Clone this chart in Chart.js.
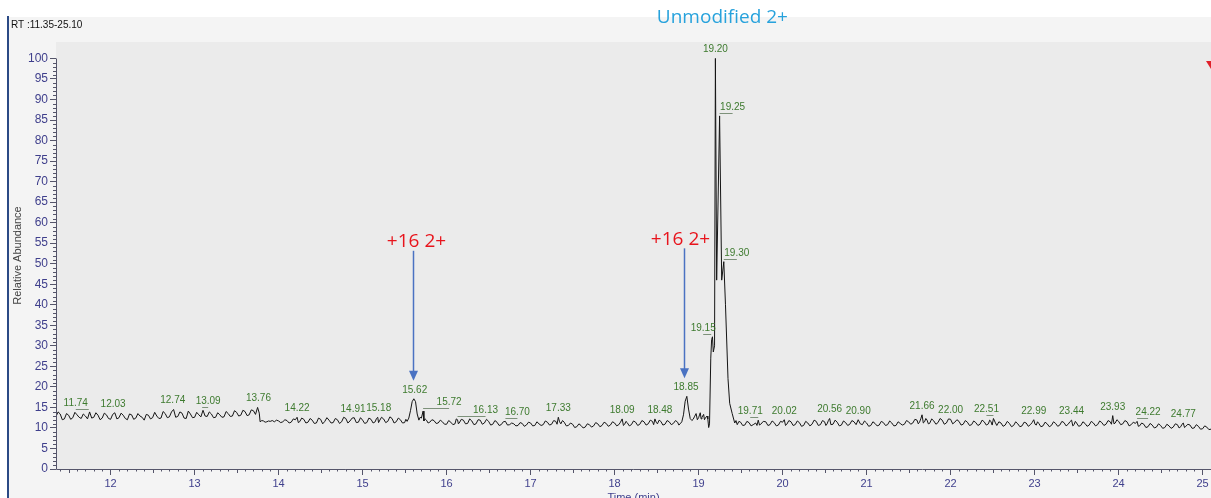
<!DOCTYPE html>
<html>
<head>
<meta charset="utf-8">
<title>RT 11.35-25.10</title>
<script src="https://cdn.jsdelivr.net/npm/chart.js@4/dist/chart.umd.min.js"></script>
<style>
  html, body { margin: 0; padding: 0; background: #fff; }
</style>
</head>
<body>
<canvas id="chromatogram" width="1211" height="498"></canvas>
<script>
// retention time (min) and relative abundance (%)
const times = [
  11.35, 11.375, 11.40, 11.425, 11.45, 11.475, 11.50, 11.525, 11.55, 11.575,
  11.60, 11.625, 11.65, 11.675, 11.70, 11.725, 11.75, 11.775, 11.80, 11.825,
  11.85, 11.875, 11.90, 11.925, 11.95, 11.975, 12.00, 12.025, 12.05, 12.075,
  12.10, 12.125, 12.15, 12.175, 12.20, 12.225, 12.25, 12.275, 12.30, 12.325,
  12.35, 12.375, 12.40, 12.425, 12.45, 12.475, 12.50, 12.525, 12.55, 12.575,
  12.60, 12.625, 12.65, 12.675, 12.70, 12.725, 12.75, 12.775, 12.80, 12.825,
  12.85, 12.875, 12.90, 12.925, 12.95, 12.975, 13.00, 13.025, 13.05, 13.075,
  13.10, 13.125, 13.15, 13.175, 13.20, 13.225, 13.25, 13.275, 13.30, 13.325,
  13.35, 13.375, 13.40, 13.425, 13.45, 13.475, 13.50, 13.525, 13.55, 13.575,
  13.60, 13.625, 13.65, 13.675, 13.70, 13.725, 13.75, 13.77, 13.78, 13.80,
  13.82, 13.84, 13.86, 13.88, 13.90, 13.925, 13.95, 13.975, 14.00, 14.025,
  14.05, 14.075, 14.10, 14.125, 14.15, 14.175, 14.20, 14.22, 14.235, 14.25,
  14.275, 14.30, 14.325, 14.35, 14.375, 14.40, 14.425, 14.45, 14.475, 14.50,
  14.525, 14.55, 14.575, 14.60, 14.625, 14.65, 14.675, 14.70, 14.725, 14.75,
  14.775, 14.80, 14.825, 14.85, 14.875, 14.90, 14.925, 14.95, 14.975, 15.00,
  15.025, 15.05, 15.075, 15.10, 15.125, 15.15, 15.165, 15.18, 15.19, 15.20,
  15.225, 15.25, 15.275, 15.30, 15.325, 15.35, 15.375, 15.40, 15.425, 15.45,
  15.475, 15.50, 15.515, 15.53, 15.55, 15.57, 15.59, 15.61, 15.63, 15.65,
  15.67, 15.685, 15.70, 15.72, 15.73, 15.745, 15.76, 15.78, 15.80, 15.825,
  15.85, 15.875, 15.90, 15.925, 15.95, 15.975, 16.00, 16.025, 16.05, 16.075,
  16.10, 16.115, 16.13, 16.14, 16.15, 16.175, 16.20, 16.225, 16.25, 16.275,
  16.30, 16.325, 16.35, 16.375, 16.40, 16.425, 16.45, 16.475, 16.50, 16.525,
  16.55, 16.575, 16.60, 16.625, 16.65, 16.675, 16.70, 16.725, 16.75, 16.775,
  16.80, 16.825, 16.85, 16.875, 16.90, 16.925, 16.95, 16.975, 17.00, 17.025,
  17.05, 17.075, 17.10, 17.125, 17.15, 17.175, 17.20, 17.225, 17.25, 17.275,
  17.30, 17.315, 17.33, 17.345, 17.36, 17.38, 17.40, 17.425, 17.45, 17.475,
  17.50, 17.525, 17.55, 17.575, 17.60, 17.625, 17.65, 17.675, 17.70, 17.725,
  17.75, 17.775, 17.80, 17.825, 17.85, 17.875, 17.90, 17.925, 17.95, 17.975,
  18.00, 18.025, 18.05, 18.07, 18.09, 18.105, 18.12, 18.135, 18.15, 18.175,
  18.20, 18.225, 18.25, 18.275, 18.30, 18.325, 18.35, 18.375, 18.40, 18.425,
  18.45, 18.465, 18.48, 18.495, 18.51, 18.53, 18.55, 18.575, 18.60, 18.625,
  18.65, 18.675, 18.70, 18.725, 18.75, 18.765, 18.78, 18.80, 18.82, 18.84,
  18.86, 18.88, 18.90, 18.92, 18.935, 18.95, 18.97, 18.985, 19.00, 19.02,
  19.03, 19.04, 19.06, 19.07, 19.08, 19.10, 19.11, 19.12, 19.13, 19.145,
  19.155, 19.165, 19.175, 19.19, 19.20, 19.215, 19.25, 19.275, 19.30, 19.32,
  19.35, 19.37, 19.40, 19.43, 19.445, 19.46, 19.48, 19.50, 19.525, 19.55,
  19.575, 19.60, 19.625, 19.65, 19.68, 19.695, 19.71, 19.725, 19.74, 19.77,
  19.80, 19.825, 19.85, 19.875, 19.90, 19.925, 19.95, 19.975, 20.00, 20.02,
  20.035, 20.05, 20.075, 20.10, 20.125, 20.15, 20.175, 20.20, 20.225, 20.25,
  20.275, 20.30, 20.325, 20.35, 20.375, 20.40, 20.425, 20.45, 20.475, 20.50,
  20.515, 20.53, 20.545, 20.56, 20.575, 20.60, 20.625, 20.65, 20.675, 20.70,
  20.725, 20.75, 20.775, 20.80, 20.825, 20.85, 20.875, 20.90, 20.925, 20.95,
  20.975, 21.00, 21.025, 21.05, 21.075, 21.10, 21.125, 21.15, 21.175, 21.20,
  21.225, 21.25, 21.275, 21.30, 21.325, 21.35, 21.375, 21.40, 21.425, 21.45,
  21.475, 21.50, 21.525, 21.55, 21.575, 21.60, 21.615, 21.63, 21.645, 21.66,
  21.675, 21.69, 21.705, 21.72, 21.735, 21.75, 21.775, 21.80, 21.825, 21.85,
  21.875, 21.90, 21.925, 21.95, 21.975, 22.00, 22.025, 22.05, 22.075, 22.10,
  22.125, 22.15, 22.175, 22.20, 22.225, 22.25, 22.275, 22.30, 22.325, 22.35,
  22.375, 22.40, 22.425, 22.45, 22.465, 22.48, 22.495, 22.51, 22.53, 22.55,
  22.575, 22.60, 22.625, 22.65, 22.675, 22.70, 22.725, 22.75, 22.775, 22.80,
  22.825, 22.85, 22.875, 22.90, 22.925, 22.95, 22.97, 22.99, 23.005, 23.02,
  23.035, 23.05, 23.075, 23.10, 23.125, 23.15, 23.175, 23.20, 23.225, 23.25,
  23.275, 23.30, 23.325, 23.35, 23.375, 23.40, 23.42, 23.44, 23.455, 23.47,
  23.485, 23.50, 23.525, 23.55, 23.575, 23.60, 23.625, 23.65, 23.675, 23.70,
  23.725, 23.75, 23.775, 23.80, 23.825, 23.85, 23.875, 23.90, 23.915, 23.93,
  23.945, 23.96, 23.98, 24.00, 24.025, 24.05, 24.075, 24.10, 24.125, 24.15,
  24.175, 24.20, 24.22, 24.235, 24.25, 24.275, 24.30, 24.325, 24.35, 24.375,
  24.40, 24.425, 24.45, 24.475, 24.50, 24.525, 24.55, 24.575, 24.60, 24.625,
  24.65, 24.675, 24.70, 24.72, 24.74, 24.755, 24.77, 24.785, 24.80, 24.825,
  24.85, 24.875, 24.90, 24.925, 24.95, 24.975, 25.00, 25.025, 25.05, 25.075,
  25.10
];
const abundance = [
  12.8, 13.9, 13.4, 12.0, 12.2, 13.5, 13.1, 12.1, 12.5, 13.8,
  13.2, 12.6, 12.3, 13.4, 12.9, 12.2, 13.9, 12.4, 12.6, 13.7,
  13.1, 12.0, 12.4, 13.6, 13.2, 12.3, 12.1, 13.3, 13.7, 12.2,
  12.5, 13.6, 13.1, 12.3, 12.0, 13.4, 13.2, 12.1, 12.4, 13.5,
  12.9, 12.6, 11.9, 13.3, 13.1, 12.2, 12.5, 13.8, 12.9, 12.3,
  12.4, 14.0, 13.5, 12.5, 12.7, 13.9, 14.5, 12.6, 12.8, 13.9,
  13.6, 12.4, 12.3, 14.1, 13.4, 12.5, 12.6, 13.8, 13.2, 12.7,
  14.3, 12.9, 12.8, 13.9, 13.4, 12.5, 12.6, 13.7, 13.2, 12.6,
  12.7, 14.0, 13.5, 12.8, 12.9, 14.2, 13.8, 12.9, 13.1, 14.3,
  14.0, 13.0, 13.2, 14.4, 14.2, 13.3, 15.0, 13.6, 11.5, 11.8,
  11.7, 11.4, 11.5, 11.7, 11.6, 11.8, 11.5, 11.9, 11.7, 11.3,
  11.5, 12.0, 11.8, 11.2, 11.4, 12.2, 12.0, 12.6, 11.3, 11.5,
  12.4, 12.1, 11.2, 11.4, 12.3, 11.9, 11.1, 11.2, 12.4, 12.1,
  11.0, 11.6, 12.5, 11.9, 11.2, 11.3, 12.3, 12.0, 11.1, 11.5,
  12.6, 12.3, 11.2, 11.7, 12.4, 12.5, 11.3, 11.4, 12.5, 11.9,
  11.1, 11.3, 12.4, 12.1, 11.2, 11.5, 12.3, 12.6, 11.3, 11.7,
  12.6, 12.2, 11.3, 11.6, 12.7, 12.3, 11.2, 11.5, 12.4, 12.0,
  11.2, 11.3, 12.1, 11.6, 12.4, 14.2, 16.4, 17.1, 16.4, 13.4,
  11.9, 12.6, 12.4, 14.1, 11.7, 12.2, 11.9, 11.2, 11.4, 12.0,
  11.8, 11.1, 11.2, 11.9, 11.5, 10.9, 10.9, 11.8, 11.4, 10.8,
  11.0, 12.2, 12.0, 11.0, 11.2, 12.1, 11.9, 11.0, 11.1, 12.2,
  11.7, 10.8, 11.0, 12.0, 11.9, 10.9, 11.2, 12.1, 11.6, 10.7,
  10.9, 11.8, 11.4, 10.6, 10.8, 11.5, 11.6, 10.7, 10.8, 11.2,
  11.0, 10.5, 10.6, 11.3, 11.1, 10.4, 10.7, 11.4, 11.2, 10.5,
  10.6, 11.5, 11.0, 10.6, 10.8, 11.7, 11.4, 10.7, 10.9, 11.8,
  11.6, 10.9, 12.6, 11.5, 11.0, 11.8, 11.4, 10.5, 10.6, 11.2,
  10.9, 10.1, 10.3, 11.0, 10.6, 10.0, 10.2, 11.0, 10.8, 10.2,
  10.5, 11.3, 11.0, 10.3, 10.6, 11.4, 11.1, 10.4, 10.7, 11.5,
  11.2, 10.5, 10.8, 11.4, 12.2, 10.6, 10.9, 11.6, 11.3, 10.5,
  10.8, 11.7, 11.4, 10.6, 10.9, 11.8, 11.5, 10.7, 11.0, 11.9,
  11.6, 10.8, 12.2, 11.4, 11.0, 11.9, 11.6, 10.7, 10.9, 11.8,
  11.5, 10.8, 11.1, 11.8, 11.4, 10.7, 11.0, 11.5, 13.2, 16.5,
  17.7, 14.6, 12.3, 11.8, 12.1, 12.7, 13.5, 12.0, 12.5, 13.7,
  12.2, 12.6, 13.3, 12.0, 12.4, 12.9, 12.2, 10.1, 11.0, 27.0,
  31.5, 32.2, 28.5, 30.0, 100.0, 46.0, 86.0, 46.0, 50.5, 40.0,
  22.0, 16.0, 13.5, 11.2, 11.8, 10.8, 11.6, 11.4, 10.6, 10.7,
  11.6, 11.3, 10.5, 10.8, 11.2, 10.6, 11.9, 10.7, 10.9, 11.6,
  11.5, 10.6, 10.8, 11.7, 11.3, 10.5, 10.7, 11.6, 11.4, 12.0,
  10.6, 10.9, 11.8, 11.5, 10.6, 10.8, 11.7, 11.3, 10.4, 10.6,
  11.6, 11.2, 10.5, 10.9, 11.9, 11.6, 10.6, 10.8, 11.8, 11.5,
  10.6, 11.0, 11.8, 12.3, 10.8, 10.9, 11.9, 11.4, 10.5, 10.7,
  11.7, 11.3, 10.6, 10.9, 11.8, 11.5, 10.8, 12.0, 11.0, 10.8,
  11.7, 11.2, 10.4, 10.6, 11.5, 11.1, 10.5, 10.7, 11.6, 11.3,
  10.6, 10.8, 11.7, 11.2, 10.5, 10.6, 11.5, 11.1, 10.7, 10.9,
  11.8, 11.5, 10.9, 11.2, 12.1, 11.9, 11.0, 11.4, 12.2, 13.2,
  11.2, 11.5, 12.3, 11.9, 11.0, 11.1, 12.2, 11.7, 10.9, 11.3,
  12.3, 11.9, 10.9, 11.2, 12.2, 12.1, 11.0, 11.4, 12.0, 11.6,
  10.7, 10.9, 11.8, 11.4, 10.6, 10.8, 11.7, 11.3, 10.6, 10.9,
  11.9, 11.5, 10.7, 11.0, 11.9, 11.6, 10.7, 12.3, 11.4, 10.6,
  11.5, 11.2, 10.4, 10.7, 11.6, 11.1, 10.3, 10.6, 11.5, 11.0,
  10.3, 10.5, 11.4, 11.2, 10.4, 10.8, 11.3, 12.0, 10.9, 10.7,
  11.5, 11.1, 10.3, 10.5, 11.4, 11.0, 10.3, 10.6, 11.5, 11.1,
  10.4, 10.7, 11.6, 11.3, 10.5, 10.9, 11.5, 11.9, 10.5, 10.8,
  11.6, 11.2, 10.4, 10.6, 11.5, 11.1, 10.4, 10.7, 11.6, 11.2,
  10.5, 10.8, 11.7, 11.3, 10.6, 10.9, 11.8, 11.5, 10.9, 13.0,
  11.0, 11.2, 12.0, 11.6, 10.8, 11.0, 11.8, 11.5, 10.5, 10.8,
  11.4, 11.1, 11.6, 10.4, 10.5, 11.2, 10.9, 10.1, 10.3, 11.1,
  10.7, 10.0, 10.2, 11.0, 10.6, 9.9, 10.1, 10.9, 10.5, 9.9,
  10.2, 11.0, 10.8, 10.0, 10.3, 10.9, 11.2, 10.1, 10.4, 10.9,
  10.7, 9.9, 10.0, 10.8, 10.4, 9.7, 9.8, 10.5, 10.2, 9.6,
  9.7
];

const timeTicks = [12, 13, 14, 15, 16, 17, 18, 19, 20, 21, 22, 23, 24, 25];
const abundanceTicks = [0, 5, 10, 15, 20, 25, 30, 35, 40, 45, 50, 55, 60, 65, 70, 75, 80, 85, 90, 95, 100];

const peakLabels = ['11.74', '12.03', '12.74', '13.09', '13.76', '14.22', '14.91', '15.18', '15.62', '15.72',
  '16.13', '16.70', '17.33', '18.09', '18.48', '18.85', '19.15', '19.20', '19.25', '19.30',
  '19.71', '20.02', '20.56', '20.90', '21.66', '22.00', '22.51', '22.99', '23.44', '23.93',
  '24.22', '24.77'];

const modText = '+16 2+';
const modPeaks = [15.62, 18.85];
const mainText = 'Unmodified 2+';
const mainPeak = 19.20;
const rangeText = 'RT :11.35-25.10';

// label nudges in pixels (the instrument software moves labels apart)
const labelShift = { '11.74': -13, '13.09': 6, '14.91': -2, '15.18': 1, '15.72': 26, '16.13': 28, '16.70': 12,
  '18.48': 5, '19.15': -8, '19.25': 13, '19.30': 13, '19.71': -8, '22.51': -7, '24.22': 11 };
const modShift = [3, -4];

const sans = '"Liberation Sans", Arial, sans-serif';
const axisBlue = '#3f3f8c';

function peakTop(rt) {
  let best = -Infinity;
  for (let i = 0; i < times.length; i++) {
    if (Math.abs(times[i] - rt) <= 0.0251 && abundance[i] > best) best = abundance[i];
  }
  return best;
}

const decor = {
  id: 'decor',
  beforeDraw(chart) {
    const { ctx, chartArea: a, width, height } = chart;
    ctx.save();
    ctx.fillStyle = '#ffffff';
    ctx.fillRect(0, 0, width, height);
    ctx.fillStyle = '#f4f4f4';
    ctx.fillRect(9, 17, width - 9, height - 17);
    ctx.fillStyle = '#ebebeb';
    ctx.fillRect(a.left, a.top, a.right - a.left, a.bottom - a.top);
    ctx.strokeStyle = '#2b4a85';
    ctx.lineWidth = 2;
    ctx.beginPath();
    ctx.moveTo(8, 16);
    ctx.lineTo(8, height);
    ctx.stroke();
    ctx.restore();
  },
  afterDraw(chart) {
    const { ctx, chartArea: a } = chart;
    const xs = chart.scales.x, ys = chart.scales.y;
    ctx.save();

    // axis lines
    ctx.strokeStyle = '#55556a';
    ctx.lineWidth = 1;
    ctx.beginPath();
    ctx.moveTo(a.left + 0.5, Math.round(ys.getPixelForValue(100)) + 0.5);
    ctx.lineTo(a.left + 0.5, a.bottom + 0.5);
    ctx.lineTo(a.right, a.bottom + 0.5);
    ctx.stroke();

    // minor ticks
    ctx.beginPath();
    for (let k = 114; k <= 251; k++) {
      if (k % 10 === 0) continue;
      const px = Math.round(xs.getPixelForValue(k / 10)) + 0.5;
      const len = k % 5 === 0 ? 4 : 2.5;
      ctx.moveTo(px, a.bottom);
      ctx.lineTo(px, a.bottom + len);
    }
    for (let k = 1; k < 100; k++) {
      if (k % 5 === 0) continue;
      const py = Math.round(ys.getPixelForValue(k)) + 0.5;
      ctx.moveTo(a.left - 3, py);
      ctx.lineTo(a.left, py);
    }
    ctx.stroke();

    // peak labels
    ctx.font = '10px ' + sans;
    ctx.textAlign = 'center';
    ctx.textBaseline = 'alphabetic';
    peakLabels.forEach(lab => {
      const rt = parseFloat(lab);
      const px = xs.getPixelForValue(rt);
      const py = ys.getPixelForValue(peakTop(rt));
      const dx = labelShift[lab] || 0;
      if (Math.abs(dx) > 5) {
        ctx.strokeStyle = '#7d917a';
        ctx.beginPath();
        ctx.moveTo(px, Math.round(py - 3) + 0.5);
        ctx.lineTo(px + dx, Math.round(py - 3) + 0.5);
        ctx.stroke();
      }
      ctx.fillStyle = '#3d7a2e';
      ctx.fillText(lab, px + dx, py - 6);
    });

    // +16 arrows
    modPeaks.forEach((rt, i) => {
      const px = Math.round(xs.getPixelForValue(rt)) - 1.5;
      const tip = ys.getPixelForValue(peakTop(rt)) - 18;
      const tail = tip - 130;
      ctx.strokeStyle = '#4a72c2';
      ctx.fillStyle = '#4a72c2';
      ctx.lineWidth = 1.5;
      ctx.beginPath();
      ctx.moveTo(px, tail);
      ctx.lineTo(px, tip - 8);
      ctx.stroke();
      ctx.beginPath();
      ctx.moveTo(px - 4.5, tip - 10);
      ctx.lineTo(px + 4.5, tip - 10);
      ctx.lineTo(px, tip);
      ctx.closePath();
      ctx.fill();
      ctx.fillStyle = '#e8141c';
      ctx.font = '19px "Open Sans", sans-serif';
      ctx.textBaseline = 'middle';
      ctx.fillText(modText, px + modShift[i], tail - 9);
    });

    // unmodified label
    ctx.fillStyle = '#27a2dc';
    ctx.font = '19px "Open Sans", sans-serif';
    ctx.textBaseline = 'middle';
    ctx.fillText(mainText, xs.getPixelForValue(mainPeak) + 7, 18);

    // red arrow head cut off at the right edge
    ctx.fillStyle = '#e0202a';
    ctx.beginPath();
    ctx.moveTo(1206, 61);
    ctx.lineTo(1216, 61);
    ctx.lineTo(1211, 69);
    ctx.closePath();
    ctx.fill();

    // range text
    ctx.fillStyle = '#111';
    ctx.font = '10px ' + sans;
    ctx.textAlign = 'left';
    ctx.fillText(rangeText, 11, 25);
    ctx.restore();
  }
};

new Chart(document.getElementById('chromatogram'), {
  type: 'line',
  data: {
    datasets: [{
      data: times.map((t, i) => ({ x: t, y: abundance[i] })),
      borderColor: '#151515',
      borderWidth: 1,
      pointRadius: 0,
      tension: 0,
      fill: false
    }]
  },
  options: {
    responsive: false,
    animation: false,
    devicePixelRatio: 1,
    layout: { padding: { top: 42, left: 0, right: 0, bottom: 0 } },
    plugins: { legend: { display: false }, tooltip: { enabled: false } },
    scales: {
      x: {
        type: 'linear',
        min: 11.35,
        max: 25.10,
        afterBuildTicks: s => { s.ticks = timeTicks.map(v => ({ value: v })); },
        afterFit: s => { s.height = 29; },
        border: { display: false },
        grid: { drawOnChartArea: false, tickLength: 6, tickColor: '#55556a' },
        ticks: {
          autoSkip: false, maxRotation: 0, padding: 2, color: axisBlue,
          font: { family: '"Liberation Sans Narrow", "Liberation Sans", Arial', size: 11 }
        },
        title: {
          display: true, text: 'Time (min)', color: axisBlue,
          font: { family: sans, size: 11 }, padding: { top: 0, bottom: -7 }
        }
      },
      y: {
        min: 0,
        max: 104,
        afterBuildTicks: s => { s.ticks = abundanceTicks.map(v => ({ value: v })); },
        afterFit: s => { s.width = 56; },
        border: { display: false },
        grid: { drawOnChartArea: false, tickLength: 6, tickColor: '#55556a' },
        ticks: { padding: 2, color: axisBlue, font: { family: sans, size: 12 } },
        title: {
          display: true, text: 'Relative Abundance', color: '#444',
          font: { family: sans, size: 11 }, padding: { top: 11, bottom: 0 }
        }
      }
    }
  },
  plugins: [decor]
});
</script>
</body>
</html>
